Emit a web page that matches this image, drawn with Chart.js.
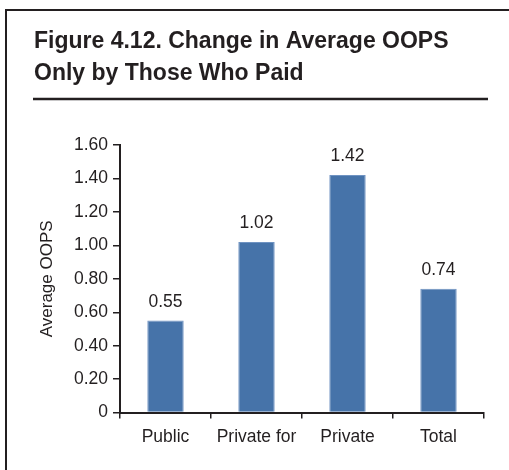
<!DOCTYPE html>
<html>
<head>
<meta charset="utf-8">
<script src="https://cdn.jsdelivr.net/npm/chart.js@4/dist/chart.umd.min.js"></script>
<style>
  html, body { margin: 0; padding: 0; background: #fff; }
  #wrap { width: 509px; height: 470px; position: relative; }
</style>
</head>
<body>
<div id="wrap"><canvas id="oopsChart"></canvas></div>
<script>
const titleLines = ['Figure 4.12. Change in Average OOPS', 'Only by Those Who Paid'];
const categories = ['Public', 'Private for', 'Private', 'Total'];
const averageOops = [0.55, 1.02, 1.42, 0.74];
const yAxisLabel = 'Average OOPS';

const ink = '#231f20';
const barBlue = '#4673a9';
const fontFamily = "'Liberation Sans', Arial, sans-serif";

// Frame, heading and the rule under it
const framePlugin = {
    id: 'frame',
    beforeDraw(chart) {
        const ctx = chart.ctx;
        ctx.save();
        ctx.fillStyle = '#fff';
        ctx.fillRect(0, 0, chart.width, chart.height);
        ctx.strokeStyle = ink;
        ctx.lineWidth = 2;
        ctx.beginPath();
        ctx.moveTo(6, chart.height);
        ctx.lineTo(6, 10);
        ctx.lineTo(chart.width, 10);
        ctx.stroke();

        ctx.fillStyle = ink;
        ctx.font = `bold 23px ${fontFamily}`;
        ctx.textBaseline = 'alphabetic';
        ctx.textAlign = 'left';
        titleLines.forEach((line, i) => ctx.fillText(line, 34, 48 + i * 32));

        ctx.lineWidth = 2.5;
        ctx.beginPath();
        ctx.moveTo(33, 99);
        ctx.lineTo(488, 99);
        ctx.stroke();
        ctx.restore();
    }
};

// Value printed above each bar
const valueLabels = {
    id: 'valueLabels',
    afterDatasetsDraw(chart) {
        const ctx = chart.ctx;
        const meta = chart.getDatasetMeta(0);
        ctx.save();
        ctx.fillStyle = ink;
        ctx.font = `17.5px ${fontFamily}`;
        ctx.textAlign = 'center';
        ctx.textBaseline = 'alphabetic';
        meta.data.forEach((bar, i) => {
            ctx.fillText(averageOops[i].toFixed(2), bar.x, bar.y - 14);
        });
        ctx.restore();
    }
};

const ctx = document.getElementById('oopsChart').getContext('2d');
new Chart(ctx, {
    type: 'bar',
    data: {
        labels: categories,
        datasets: [{
            data: averageOops,
            backgroundColor: barBlue,
            borderColor: '#6f93c2',
            borderWidth: 1,
            barPercentage: 0.4,
            categoryPercentage: 1
        }]
    },
    options: {
        responsive: true,
        maintainAspectRatio: false,
        animation: false,
        devicePixelRatio: 1,
        layout: { padding: { left: 35, top: 145, right: 25, bottom: 17.4 } },
        plugins: {
            legend: { display: false },
            tooltip: { enabled: false }
        },
        scales: {
            x: {
                grid: {
                    drawOnChartArea: false,
                    drawTicks: true,
                    tickLength: 6,
                    tickColor: ink,
                    lineWidth: 1.5
                },
                border: { color: ink, width: 2 },
                ticks: {
                    color: ink,
                    font: { family: fontFamily, size: 17.5 },
                    padding: 8,
                    maxRotation: 0,
                    autoSkip: false
                },
                afterFit(scale) { scale.height = 40; }
            },
            y: {
                min: 0,
                max: 1.6,
                grid: {
                    drawOnChartArea: false,
                    drawTicks: true,
                    tickLength: 7,
                    tickColor: ink,
                    lineWidth: 1.5
                },
                border: { color: ink, width: 2 },
                ticks: {
                    stepSize: 0.2,
                    color: ink,
                    padding: 5,
                    font: { family: fontFamily, size: 17.5 },
                    callback: v => (v === 0 ? '0' : Number(v).toFixed(2))
                },
                title: {
                    display: true,
                    text: yAxisLabel,
                    color: ink,
                    font: { family: fontFamily, size: 17 },
                    padding: { top: 2, bottom: 0 }
                },
                afterFit(scale) { scale.width = 85; }
            }
        }
    },
    plugins: [framePlugin, valueLabels]
});
</script>
</body>
</html>
